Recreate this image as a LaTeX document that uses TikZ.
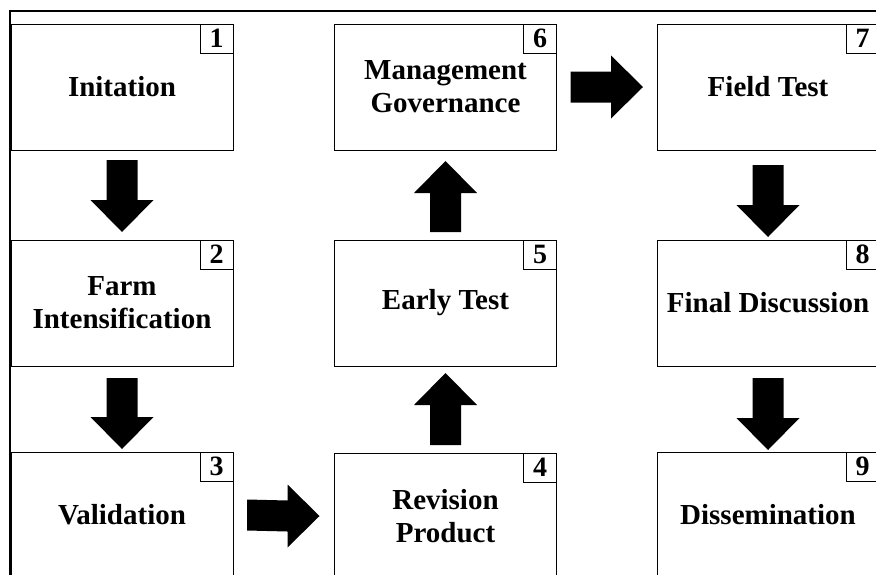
\documentclass[tikz,border=0pt]{standalone}
\usepackage{fontspec}
\setmainfont{Liberation Serif}
\usetikzlibrary{calc}
\tikzset{
  stage/.style={draw=black, line width=1pt, minimum width=222pt, minimum height=126pt,
    inner sep=0pt, outer sep=0pt, align=center, fill=white,
    font=\fontsize{29}{33}\selectfont\bfseries},
  numbox/.style={draw=black, line width=1pt, minimum width=33pt, minimum height=29pt,
    inner sep=0pt, outer sep=0pt, anchor=north east,
    font=\fontsize{28}{30}\selectfont\bfseries},
  frameline/.style={line width=2pt, line cap=rect},
  blk/.style={fill=black}
}
% #1 from, #2 to, #3 gap after source, #4 gap before target
\newcommand\ArrDown[4]{%
  \fill[blk] ($(#1.south)+(-15.5,#3)$) -- ($(#1.south)+(15.5,#3)$)
    -- ($(#2.north)+(15.5,-#4-32)$) -- ($(#2.north)+(31.5,-#4-32)$)
    -- ($(#2.north)+(0,-#4)$)
    -- ($(#2.north)+(-31.5,-#4-32)$) -- ($(#2.north)+(-15.5,-#4-32)$) -- cycle;}
\newcommand\ArrUp[4]{%
  \fill[blk] ($(#1.north)+(-15.5,-#3)$) -- ($(#1.north)+(15.5,-#3)$)
    -- ($(#2.south)+(15.5,#4+32)$) -- ($(#2.south)+(31.5,#4+32)$)
    -- ($(#2.south)+(0,#4)$)
    -- ($(#2.south)+(-31.5,#4+32)$) -- ($(#2.south)+(-15.5,#4+32)$) -- cycle;}
\newcommand\ArrRight[4]{%
  \fill[blk] ($(#1.east)+(#3,-15.5)$) -- ($(#1.east)+(#3,15.5)$)
    -- ($(#2.west)+(-#4-32,15.5)$) -- ($(#2.west)+(-#4-32,31.5)$)
    -- ($(#2.west)+(-#4,0)$)
    -- ($(#2.west)+(-#4-32,-31.5)$) -- ($(#2.west)+(-#4-32,-15.5)$) -- cycle;}
\begin{document}
\begin{tikzpicture}[x=1pt,y=-1pt]
\useasboundingbox (0,0) rectangle (876,574);
\clip (0,0) rectangle (876,574);
\fill[white] (0,0) rectangle (876,574);

% stages
\node[stage] (b1) at (122,87) {Initation};
\node[stage] (b2) at (122,303) {Farm\\Intensification};
\node[stage] (b3) at (122,515) {Validation};
\node[stage] (b4) at (445.5,516) {Revision\\Product};
\node[stage] (b5) at (445.5,303) {Early Test};
\node[stage] (b6) at (445.5,87) {Management\\Governance};
\node[stage] (b7) at (768,87) {Field Test};
\node[stage] (b8) at (768,303) {Final Discussion};
\node[stage] (b9) at (768,515) {Dissemination};

% numbers
\node[numbox] (n1) at (b1.north east) {1};
\node[numbox] (n2) at (b2.north east) {2};
\node[numbox] (n3) at (b3.north east) {3};
\node[numbox] (n4) at (b4.north east) {4};
\node[numbox] (n5) at (b5.north east) {5};
\node[numbox] (n6) at (b6.north east) {6};
\node[numbox] (n7) at (b7.north east) {7};
\node[numbox] (n8) at (b8.north east) {8};
\node[numbox] (n9) at (b9.north east) {9};

% block arrows
\ArrDown{b1}{b2}{10}{8}
\ArrDown{b2}{b3}{12}{3}
\ArrRight{b3}{b4}{14}{15}
\ArrUp{b4}{b5}{8}{7}
\ArrUp{b5}{b6}{8}{11}
\ArrRight{b6}{b7}{14}{14}
\ArrDown{b7}{b8}{15}{3}
\ArrDown{b8}{b9}{12}{2}

% outer frame
\coordinate (fbl) at (10,580);
\coordinate (ftl) at (10,11);
\coordinate (ftr) at (880,11);
\draw[frameline] (fbl) -- (ftl) -- (ftr);
\end{tikzpicture}
\end{document}
